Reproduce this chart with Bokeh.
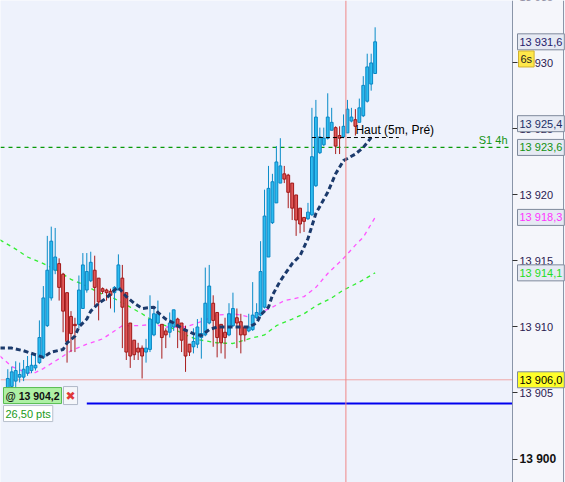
from bokeh.plotting import figure
from bokeh.models import Range1d, FixedTicker, Label, Span, ColumnDataSource, BoxAnnotation
from bokeh.embed import file_html
from bokeh.resources import INLINE

# ---------------- data ----------------
opens = [13905.4, 13905.5, 13905.9, 13906.2, 13906.2, 13906.5, 13906.7, 13906.9, 13907.3, 13907.7,
         13910.1, 13912.2, 13914.3, 13914.8, 13914.0, 13912.6, 13910.8, 13910.2, 13910.2, 13911.4,
         13912.8, 13913.5, 13914.3, 13913.7, 13912.9, 13912.8, 13912.7, 13912.6, 13912.8, 13913.7,
         13912.6, 13910.3, 13909.0, 13908.4, 13908.4, 13908.1, 13908.3, 13909.4, 13910.3, 13910.2,
         13909.7, 13909.6, 13910.0, 13910.6, 13910.3, 13909.7, 13908.7, 13908.5, 13908.7, 13909.2,
         13909.4, 13910.3, 13911.8, 13911.1, 13910.2, 13909.6, 13909.4, 13910.1, 13910.7, 13910.4,
         13910.0, 13909.7, 13909.8, 13910.7, 13910.9, 13911.5, 13915.3, 13917.9, 13919.4, 13920.9,
         13921.6, 13921.5, 13920.9, 13920.0, 13919.0, 13918.3, 13918.2, 13918.5, 13920.7, 13923.2,
         13923.8, 13924.3, 13924.9, 13925.1, 13924.5, 13924.4, 13924.7, 13925.6, 13925.7, 13925.5,
         13926.0, 13927.1, 13928.4, 13929.2]
highs = [13906.8, 13907.0, 13907.4, 13907.3, 13907.5, 13907.8, 13907.9, 13908.0, 13910.5, 13913.1,
         13916.9, 13917.6, 13917.5, 13915.2, 13914.1, 13912.6, 13911.2, 13910.7, 13913.9, 13915.6,
         13915.6, 13915.7, 13915.4, 13913.7, 13913.0, 13912.9, 13912.9, 13913.1, 13915.5, 13914.7,
         13912.6, 13910.3, 13909.0, 13908.8, 13908.6, 13909.1, 13912.4, 13911.5, 13912.0, 13910.2,
         13909.9, 13911.1, 13911.3, 13910.7, 13910.3, 13910.1, 13908.7, 13909.9, 13910.6, 13910.7,
         13914.5, 13914.7, 13912.4, 13911.1, 13910.2, 13910.7, 13911.8, 13912.6, 13911.4, 13911.0,
         13910.0, 13911.0, 13913.4, 13911.8, 13916.5, 13920.4, 13922.2, 13921.6, 13923.7, 13924.3,
         13922.2, 13921.6, 13920.9, 13920.0, 13919.0, 13918.3, 13919.4, 13926.6, 13927.2, 13925.1,
         13925.1, 13927.7, 13926.6, 13925.2, 13925.2, 13926.1, 13927.2, 13926.6, 13926.5, 13927.3,
         13929.0, 13930.7, 13930.7, 13932.7]
lows = [13905.3, 13905.2, 13905.3, 13905.8, 13905.9, 13906.3, 13906.5, 13906.7, 13907.2, 13907.6,
        13910.0, 13912.0, 13914.0, 13912.0, 13909.6, 13907.3, 13908.1, 13908.1, 13909.9, 13911.4,
        13912.6, 13913.4, 13911.6, 13910.5, 13912.5, 13912.0, 13911.4, 13911.1, 13912.8, 13908.4,
        13907.5, 13906.9, 13907.5, 13907.5, 13906.1, 13907.3, 13908.1, 13909.3, 13910.2, 13907.6,
        13908.4, 13909.2, 13909.7, 13908.4, 13908.1, 13906.6, 13907.8, 13908.0, 13908.4, 13907.6,
        13909.3, 13910.2, 13908.5, 13907.7, 13908.0, 13907.6, 13909.3, 13910.0, 13908.4, 13908.0,
        13908.9, 13909.6, 13909.7, 13910.6, 13910.8, 13911.4, 13915.3, 13917.8, 13919.4, 13920.9,
        13920.9, 13919.0, 13918.1, 13916.9, 13917.1, 13917.2, 13918.1, 13918.4, 13920.6, 13923.1,
        13923.7, 13924.2, 13924.9, 13923.1, 13923.1, 13924.3, 13924.7, 13925.5, 13924.5, 13925.5,
        13925.9, 13927.0, 13927.9, 13929.2]
closes = [13906.1, 13906.6, 13906.7, 13906.4, 13906.8, 13907.0, 13907.1, 13907.1, 13909.2, 13912.2,
          13914.3, 13916.5, 13915.3, 13913.0, 13911.2, 13908.9, 13909.5, 13910.1, 13912.8, 13914.7,
          13914.2, 13914.9, 13913.0, 13911.9, 13912.7, 13912.6, 13912.4, 13913.0, 13914.7, 13911.5,
          13908.1, 13907.8, 13907.9, 13908.1, 13907.8, 13908.4, 13910.6, 13911.0, 13911.0, 13909.2,
          13909.4, 13910.3, 13911.3, 13910.0, 13909.0, 13907.8, 13908.1, 13908.9, 13910.0, 13909.5,
          13911.8, 13913.1, 13910.5, 13909.2, 13908.8, 13909.2, 13911.0, 13911.4, 13910.3, 13909.4,
          13909.4, 13910.0, 13910.9, 13911.1, 13914.2, 13918.4, 13920.5, 13921.0, 13922.5, 13922.2,
          13921.2, 13920.2, 13919.0, 13918.1, 13917.8, 13918.0, 13918.7, 13922.9, 13925.9, 13924.4,
          13924.3, 13925.9, 13925.5, 13923.7, 13924.3, 13925.2, 13926.5, 13925.9, 13925.2, 13926.6,
          13928.3, 13929.7, 13930.0, 13931.6]

navy_idx = [-2, 1, 4, 7, 9, 11, 14, 15, 17, 18, 20, 21, 23, 25, 27, 28, 30, 32, 34, 37, 38, 40, 42,
            44, 47, 49, 51, 53, 56, 58, 61, 63, 64, 66, 67, 69, 72, 74, 76, 78, 81, 83, 85, 88, 90, 92]
navy_val = [13908.4, 13908.4, 13908.2, 13907.9, 13907.7, 13908.1, 13908.3, 13908.8, 13909.3, 13910.0,
            13910.6, 13911.2, 13911.8, 13912.2, 13912.8, 13913.0, 13912.3, 13911.8, 13911.4, 13911.5,
            13911.1, 13910.6, 13910.3, 13909.9, 13909.5, 13909.35, 13909.8, 13910.0, 13910.0, 13910.0,
            13910.0, 13910.3, 13910.9, 13911.5, 13912.4, 13913.5, 13914.8, 13915.4, 13916.7, 13918.6,
            13920.2, 13921.6, 13922.6, 13923.1, 13923.6, 13924.35]

green_idx = [-2, 2, 5, 9, 13, 16, 20, 23, 27, 31, 34, 37, 41, 45, 48, 53, 57, 61, 65, 68, 72, 75,
             78, 82, 85, 89, 93]
green_val = [13916.6, 13915.9, 13915.3, 13914.8, 13914.2, 13913.6, 13913.1, 13912.6, 13912.15, 13911.5,
             13911.0, 13910.4, 13910.0, 13909.4, 13909.05, 13908.8, 13908.75, 13909.1, 13909.4, 13910.1,
             13910.6, 13911.0, 13911.6, 13912.2, 13912.8, 13913.4, 13914.1]

pink_idx = [-2, 1, 5, 7, 9, 13, 16, 20, 24, 27, 29, 33, 37, 40, 45, 48, 53, 57, 59, 62, 64, 67, 70,
            75, 78, 81, 85, 88, 90, 93]
pink_val = [13907.8, 13907.0, 13906.5, 13906.55, 13906.85, 13907.6, 13908.2, 13908.7, 13909.1, 13909.7,
            13910.1, 13910.1, 13910.2, 13910.0, 13910.0, 13910.3, 13910.9, 13911.0, 13910.9, 13910.7,
            13911.1, 13911.5, 13912.0, 13912.3, 13913.0, 13914.05, 13915.2, 13916.2, 13916.8, 13918.3]

axis_ticks = [13900, 13905, 13910, 13915, 13920, 13925, 13930, 13935]
value_levels = [13931.6, 13925.4, 13923.6, 13918.3, 13914.1, 13906.0]
value_text_colors = ["#25206a", "#1c2f66", "#129212", "#ff33ff", "#22dd22", "#000000"]
value_bg_colors = ["#e6eaf3", "#e6eaf3", "#e6eaf3", "#e6eaf3", "#e6eaf3", "#ffff2a"]

s1_level = 13923.6
s1_text = "S1 4h"
haut_level = 13924.35
haut_from, haut_to = 77, 99
haut_text = "Haut (5m, Pré)"
cursor_index = 85.6
last_level = 13906.0
entry_level = 13904.2
entry_from = 20
entry_text = "@ 13 904,2"
pts_text = "26,50 pts"
timer_text = "6s"
timer_level = 13930.3

# layout constants (candle index units / screen px)
X_LEFT, X_RIGHT = -1.85, 141.2
Y_LOW, Y_HIGH = 13898.22, 13934.73
AXIS_X = 127.77
EDGE_X = 140.7


def fmt(v, dec):
    s = f"{v:,.{dec}f}"
    return s.replace(",", " ").replace(".", ",")


FONT = "Liberation Sans"

# ---------------- figure ----------------
p = figure(width=565, height=482, x_range=Range1d(X_LEFT, X_RIGHT), y_range=Range1d(Y_LOW, Y_HIGH),
           output_backend="svg", toolbar_location=None, y_axis_location="right", x_axis_location=None,
           min_border_left=0, min_border_top=0, min_border_bottom=0, min_border_right=0)
p.grid.visible = False
p.outline_line_color = None
p.background_fill_color = "#eef2fc"
p.border_fill_color = "#ffffff"

# price-scale area background
p.add_layout(BoxAnnotation(left=AXIS_X, fill_color="#f5f6fb", fill_alpha=1.0, line_color=None,
                           level="underlay"))
p.add_layout(Span(location=EDGE_X, dimension="height", line_color="#8a95a8", line_width=1,
                  level="underlay"))

ax = p.yaxis[0]
ax.fixed_location = AXIS_X
ax.ticker = FixedTicker(ticks=axis_ticks)
overrides = {t: fmt(t, 0) for t in axis_ticks}
overrides[13900] = ""
ax.major_label_overrides = overrides
ax.axis_line_color = "#8a95a8"
ax.major_tick_line_color = "#333333"
ax.major_tick_out = 5
ax.major_tick_in = 0
ax.minor_tick_line_color = None
ax.major_label_text_font = FONT
ax.major_label_text_font_size = "11px"
ax.major_label_text_color = "#2a2050"
ax.major_label_standoff = 2

# partly visible top tick label
p.add_layout(Label(x=519, y=13935, x_units="screen", text=fmt(13935, 0), text_baseline="middle",
                   text_font=FONT, text_font_size="11px", text_color="#2a2050"))

# horizontal reference lines (stop at the price scale)
p.segment(x0=[X_LEFT], x1=[AXIS_X], y0=[last_level], y1=[last_level], line_color="#f0a8a8",
          line_width=1)
p.segment(x0=[entry_from], x1=[AXIS_X], y0=[entry_level], y1=[entry_level], line_color="#0000ee",
          line_width=2)
p.segment(x0=[X_LEFT], x1=[AXIS_X], y0=[s1_level], y1=[s1_level], line_color="#089a08",
          line_width=1.3, line_dash="4 4")

# moving averages
p.line(pink_idx, pink_val, line_color="#ff55ff", line_width=1.3, line_dash="4 4")
p.line(green_idx, green_val, line_color="#33ee33", line_width=1.3, line_dash="4 4")

# candles
idx = list(range(len(opens)))
up = [c >= o for o, c in zip(opens, closes)]
src = ColumnDataSource(dict(
    x=idx, o=opens, h=highs, l=lows, c=closes,
    top=[max(o, c) for o, c in zip(opens, closes)],
    bot=[min(o, c) for o, c in zip(opens, closes)],
    wick=["#0a8cc8" if u else "#a81c1c" for u in up],
    fill=["#2cbcf0" if u else "#e05858" for u in up],
    edge=["#0a86c4" if u else "#a01818" for u in up],
))
p.segment(x0="x", y0="l", x1="x", y1="h", line_color="wick", line_width=1, source=src)
p.vbar(x="x", width=0.72, top="top", bottom="bot", fill_color="fill", line_color="edge",
       line_width=1, source=src)

p.line(navy_idx, navy_val, line_color="#1b3a6c", line_width=3, line_dash="5 3")

# "Haut" level
p.segment(x0=[haut_from], x1=[haut_to], y0=[haut_level], y1=[haut_level], line_color="#000000",
          line_width=1, line_dash="4 3")
p.add_layout(Label(x=88, y=haut_level, y_offset=1, text=haut_text, text_baseline="bottom",
                   text_font=FONT, text_font_size="12px", text_color="#000000"))

p.add_layout(Span(location=cursor_index, dimension="height", line_color="#f08888", line_width=1))

p.add_layout(Label(x=507, x_units="screen", y=s1_level, y_offset=1, text=s1_text, text_align="right",
                   text_baseline="bottom", text_font=FONT, text_font_size="11px",
                   text_color="#129212"))

# price boxes on the scale
for lvl, tc, bg in zip(value_levels, value_text_colors, value_bg_colors):
    p.add_layout(Label(x=517, x_units="screen", y=lvl, text=fmt(lvl, 1), text_baseline="middle",
                       text_font=FONT, text_font_size="11px", text_color=tc,
                       background_fill_color=bg, border_line_color="#7f8a9c", padding=2))

p.add_layout(Label(x=519, y=13900, x_units="screen", text=fmt(13900, 0), text_baseline="middle",
                   text_font=FONT, text_font_size="12px", text_font_style="bold",
                   text_color="#111111"))

p.add_layout(Label(x=518, x_units="screen", y=timer_level, text=timer_text, text_baseline="middle",
                   text_font=FONT, text_font_size="11px", text_color="#222222",
                   background_fill_color="#ffe84a", border_line_color="#d0b030", padding=2))

# order boxes, bottom left
p.add_layout(Label(x=3, x_units="screen", y=entry_level, y_offset=8, text=entry_text,
                   text_baseline="middle", text_font=FONT, text_font_size="10.5px",
                   text_font_style="bold", text_color="#111111",
                   background_fill_color="#aef0a4", border_line_color="#58bc50", padding=2))
p.add_layout(Label(x=63, x_units="screen", y=entry_level, y_offset=8, text="✖",
                   text_baseline="middle", text_font="DejaVu Sans", text_font_size="12px",
                   text_color="#e03838", background_fill_color="#f4f6fa",
                   border_line_color="#b0b8c8", padding=2))
p.add_layout(Label(x=3, x_units="screen", y=entry_level, y_offset=-10, text=pts_text,
                   text_baseline="middle", text_font=FONT, text_font_size="11px",
                   text_color="#1a9a1a", background_fill_color="#ffffff",
                   border_line_color="#b8c0cc", padding=2))

open("out.html", "w").write(file_html(p, INLINE))
